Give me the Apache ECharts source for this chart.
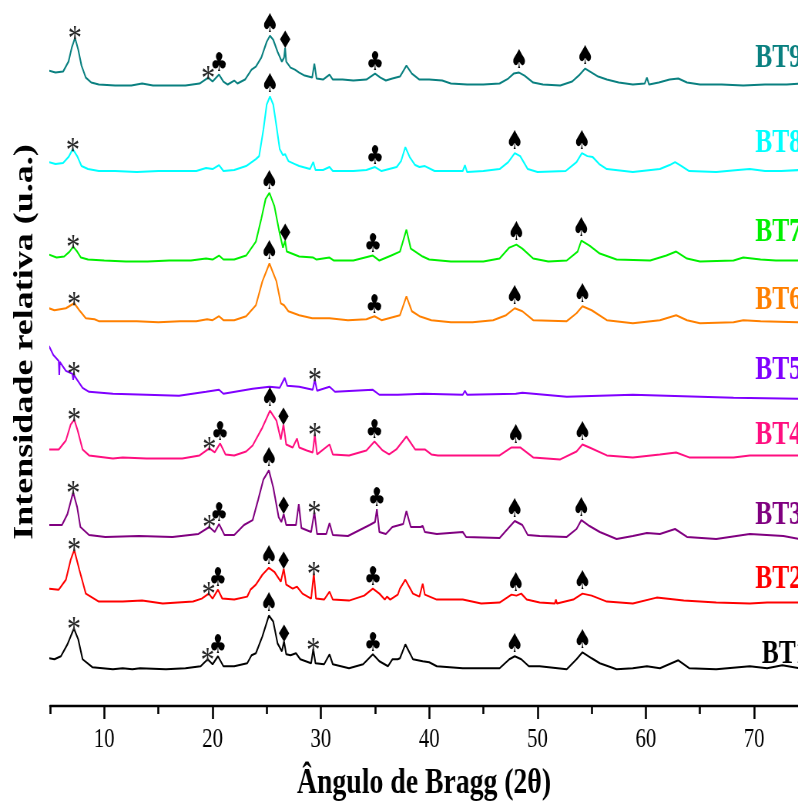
<!DOCTYPE html>
<html><head><meta charset="utf-8">
<script src="https://cdn.jsdelivr.net/npm/echarts@6/dist/echarts.min.js"></script>
<style>
html,body{margin:0;padding:0;background:#fff;overflow:hidden}
#wrap{width:798px;height:807px;overflow:hidden;position:relative;background:#fff}
#chart{width:1036px;height:807px;transform:scaleX(0.77027);transform-origin:0 0}
</style></head><body>
<div id="wrap"><div id="chart"></div></div>
<script>
// ---------------- DATA ----------------
const sampleNames = ['BT1','BT2','BT3','BT4','BT5','BT6','BT7','BT8','BT9'];
const sampleColors = ['#000000','#ff0000','#800080','#ff0f80','#8000ff','#ff8000','#00f000','#00ffff','#0a8080'];
// vertical stacking offsets (arbitrary units)
const stackOffsets = [36,102,168,248,308,385,447,537,624];
const majorTicks = [10,20,30,40,50,60,70];
const minorTicks = [5,15,25,35,45,55,65];

// patterns: [2theta, relative intensity]
const bt1 = [[4.9,12],[5.4,11],[6.0,14],[6.6,26],[7.2,42],[7.6,31],[8.0,11],[8.9,3],[10.8,1],[11.7,2],[12.6,1],[13.3,2],[15.7,1],[17.5,2],[18.9,4],[19.55,11],[20.0,6],[20.5,14],[21.0,4],[22.0,4],[23.2,7],[23.6,15],[24.0,17],[24.6,34],[25.2,55],[25.6,49],[26.0,27],[26.4,19],[26.6,29],[26.8,16],[27.2,15],[27.7,17],[28.1,11],[29.1,7],[29.3,21],[29.5,7],[30.3,6],[30.8,16],[31.1,6],[32.6,2],[33.9,6],[34.8,16],[35.4,9],[36.2,4],[36.6,11],[37.1,11],[37.3,12],[37.8,26],[38.5,11],[39.4,9],[40.0,8],[40.7,4],[43.1,2],[46.5,2],[47.4,11],[47.9,14],[48.5,11],[49.2,4],[50.2,4],[52.7,1],[53.6,11],[54.15,18],[55.0,12],[55.75,7],[57.3,1],[58.8,2],[60.1,4],[61.3,2],[63.0,10],[64.0,2],[66.5,1],[69.6,4],[71.2,2],[72.6,5],[74.2,2]];
const bt2 = [[4.9,16],[5.8,15],[6.46,25],[6.9,45],[7.23,55],[7.7,35],[8.3,11],[9.5,3],[11.7,3],[13.5,4],[15.4,1],[18.2,3],[19.0,6],[19.65,11],[20.0,6],[20.5,15],[20.9,6],[22.0,5],[23.2,8],[23.5,15],[24.0,20],[24.6,30],[25.2,37],[25.7,33],[26.3,23],[26.57,36],[26.8,20],[27.4,16],[27.8,18],[28.3,11],[29.1,6],[29.35,31],[29.55,6],[30.3,5],[30.8,13],[31.1,5],[32.6,4],[34.0,9],[34.8,16],[35.4,11],[35.9,5],[36.1,8],[36.4,5],[37.1,10],[37.3,16],[37.8,25],[38.5,11],[39.1,8],[39.4,21],[39.6,10],[40.7,5],[43.1,5],[44.8,1],[46.5,2],[47.6,10],[48.05,9],[48.5,11],[49.0,5],[50.2,2],[51.6,1],[51.7,5],[51.8,1],[53.3,5],[54.15,11],[55.0,9],[56.4,3],[58.8,1],[61.0,7],[63.5,4],[66.5,2],[69.6,1],[71.2,2],[74.2,2]];
const bt3 = [[4.9,14],[6.1,14],[6.6,25],[7.13,47],[7.5,32],[7.8,12],[8.6,4],[10.1,2],[13.2,3],[16.3,2],[18.7,5],[19.7,12],[20.2,7],[20.6,15],[21.1,4],[22.0,4],[22.9,14],[23.7,19],[24.2,39],[24.7,60],[25.2,69],[25.6,52],[26.1,22],[26.35,17],[26.57,25],[26.8,14],[27.7,14],[27.96,35],[28.2,11],[29.1,7],[29.4,27],[29.65,5],[30.5,5],[30.8,16],[31.1,4],[32.5,3],[34.5,14],[35.0,17],[35.17,30],[35.4,7],[36.0,5],[36.6,12],[37.6,15],[37.9,28],[38.3,12],[39.2,12],[39.4,13],[39.6,7],[40.7,5],[43.1,7],[43.4,2],[46.5,1],[47.4,12],[47.9,18],[48.6,14],[49.1,4],[50.2,3],[52.7,2],[53.6,10],[54.05,19],[54.8,13],[55.75,7],[57.3,0],[58.8,3],[60.1,6],[61.3,5],[62.7,10],[63.8,2],[66.5,0],[69.6,5],[72.7,3],[74.2,0]];
const bt4 = [[4.9,10],[5.8,10],[6.46,19],[6.9,35],[7.23,40],[7.55,29],[8.0,10],[8.6,4],[10.8,1],[11.7,2],[13.9,1],[17.2,1],[18.8,4],[19.7,11],[20.2,7],[20.7,16],[21.2,5],[22.0,4],[23.1,8],[23.7,14],[24.6,32],[25.3,49],[25.9,39],[26.3,20],[26.55,35],[26.8,15],[27.4,12],[27.8,21],[28.0,12],[28.7,9],[29.25,7],[29.44,25],[29.65,5],[30.8,15],[31.1,5],[32.6,4],[34.2,9],[34.95,18],[35.7,9],[36.3,5],[36.96,10],[37.9,23],[38.7,10],[39.6,10],[40.2,5],[40.8,4],[43.3,4],[46.5,4],[47.6,12],[48.4,12],[49.0,7],[49.6,2],[52.1,0],[53.6,8],[54.15,15],[54.8,12],[56.4,4],[58.8,2],[61.3,5],[62.8,7],[64.0,2],[68.1,2],[69.6,4],[74.2,4]];
const bt5 = [[4.9,54],[5.3,45],[5.8,39],[5.85,25],[5.9,38],[6.46,29],[7.07,26],[7.13,20],[7.2,25],[7.5,20],[8.0,12],[8.6,8],[10.8,6],[13.9,5],[16.9,4],[19.4,8],[20.6,10],[21.0,6],[23.7,11],[25.25,13],[26.2,12],[26.66,22],[26.9,14],[28.0,13],[29.25,10],[29.44,20],[29.65,9],[30.8,13],[31.3,8],[34.8,10],[35.4,5],[37.1,5],[39.5,6],[43.1,5],[43.3,9],[43.5,5],[48.0,6],[48.6,7],[52.7,3],[58.8,5],[61.9,4],[68.1,2],[74.2,1]];
const bt6 = [[4.9,15],[5.4,13],[6.46,15],[7.23,20],[7.7,13],[8.3,5],[9.1,4],[9.5,2],[11,2],[13,2],[15,1],[17,2],[18.5,2],[19.5,4],[20.0,3],[20.6,7],[21.0,3],[22.0,3],[23.1,7],[24.0,18],[24.6,42],[25.25,60],[25.9,42],[26.3,20],[26.6,18],[27.0,12],[28.0,8],[29.2,5],[30.8,5],[32.5,3],[34.2,4],[34.95,7],[35.6,3],[36.96,7],[37.3,8],[37.9,27],[38.4,12],[39.1,7],[40.2,3],[42,1],[44,1],[45.9,3],[47.1,8],[47.9,15],[48.6,12],[49.6,3],[52.7,2],[53.6,10],[54.15,17],[55.0,13],[56.4,3],[58.8,0],[61.3,3],[62.8,8],[63.8,3],[65,0],[68.1,1],[69.0,3],[70.6,2],[74.2,1]];
const bt7 = [[4.9,7],[5.6,4],[6.3,5],[6.8,10],[7.13,15],[7.5,10],[7.85,4],[8.5,2],[10,1],[12,0],[14,0],[16,1],[18,1],[19.4,3],[20.0,2],[20.6,6],[21.0,2],[22.0,2],[23.1,6],[24.0,20],[24.5,43],[24.9,63],[25.25,69],[25.7,56],[26.2,28],[26.5,14],[26.7,21],[26.85,10],[28.0,5],[29.3,4],[29.4,6],[29.6,2],[30.8,4],[31.2,1],[33,1],[34.8,6],[35.4,1],[36.5,6],[37.3,10],[37.9,32],[38.3,13],[39.4,5],[40,2],[42,0],[45,0],[46.5,3],[47.4,14],[48.05,17],[48.6,13],[49.6,3],[51,0],[52.7,1],[53.7,10],[54.05,21],[54.8,16],[55.75,8],[57.3,2],[60.4,1],[61.9,6],[62.8,10],[63.8,3],[65.0,0],[68.1,1],[69.0,4],[70.6,2],[72,1],[74.2,1]];
const bt8 = [[4.9,10],[5.5,8],[6.2,9],[6.7,15],[7.1,23],[7.5,16],[7.9,6],[8.5,3],[9.5,1],[11,1],[13,0],[15,1],[17,1],[18.5,1],[19.4,4],[20.0,3],[20.6,7],[21.0,1],[22.0,2],[23.1,6],[24.0,13],[24.3,16],[24.7,43],[25.0,68],[25.3,76],[25.6,68],[25.9,46],[26.2,23],[26.5,17],[26.7,18],[27.0,11],[27.6,8],[28.0,6],[29.0,3],[29.3,10],[29.5,2],[30.2,2],[30.8,5],[31.1,1],[33,1],[34.2,2],[35.0,5],[35.6,1],[36.3,3],[37.0,5],[37.4,11],[37.8,25],[38.2,15],[38.7,7],[39.1,5],[39.6,6],[40.5,1],[42,1],[43.1,1],[43.3,7],[43.5,0],[45,1],[46.5,3],[47.3,10],[47.9,19],[48.4,16],[49.1,3],[50.0,0],[52.6,1],[53.6,10],[54.1,19],[54.6,16],[55.1,15],[55.7,8],[56.4,3],[58.8,0],[61.3,3],[62.2,7],[62.7,10],[63.3,6],[64.0,1],[66.5,0],[68.5,2],[69.6,3],[71.0,1],[72.5,1],[74.2,2]];
const bt9 = [[4.9,15],[5.5,13],[6.2,14],[6.7,24],[7.0,38],[7.3,48],[7.6,36],[7.9,20],[8.3,8],[8.8,3],[9.5,1],[11,0],[12.5,0],[13.5,2],[14.5,0],[16,0],[17.5,0],[18.8,2],[19.6,8],[20.0,4],[20.6,11],[21.0,4],[21.4,1],[22.0,5],[22.3,2],[23.0,6],[23.6,16],[24.0,19],[24.5,28],[25.0,44],[25.3,50],[25.6,46],[26.0,34],[26.4,24],[26.6,28],[26.7,38],[26.8,24],[27.2,18],[27.6,16],[28.0,13],[28.5,10],[29.2,8],[29.4,22],[29.6,7],[30.2,6],[30.8,11],[31.1,6],[32,6],[33,5],[34.2,6],[35.0,12],[35.5,8],[36,5],[36.6,7],[37.3,9],[37.9,20],[38.4,12],[39.1,6],[40,6],[41.2,5],[42,2],[43.5,1],[45,1],[46.5,2],[47.3,7],[47.8,12],[48.3,13],[48.8,10],[49.6,3],[50.5,1],[52.1,0],[53.2,4],[53.9,11],[54.4,17],[55.0,13],[55.6,9],[56.4,6],[57.5,3],[58.8,1],[59.9,2],[60.1,8],[60.3,1],[61.2,3],[62.2,6],[63.0,7],[63.8,3],[65,1],[67,1],[69,0],[71,1],[73,1],[74.2,2]];
const patterns = [bt1,bt2,bt3,bt4,bt5,bt6,bt7,bt8,bt9];

// phase markers: [2theta, symbol]  (* ♣ ♠ ♦)
const peaks1 = [[7.2,'*'],[19.55,'*'],[20.5,'♣'],[25.2,'♠'],[26.6,'♦'],[29.3,'*'],[34.8,'♣'],[47.9,'♠'],[54.15,'♠']];
const peaks2 = [[7.23,'*'],[19.65,'*'],[20.5,'♣'],[25.2,'♠'],[26.57,'♦'],[29.35,'*'],[34.8,'♣'],[48.0,'♠'],[54.15,'♠']];
const peaks3 = [[7.13,'*'],[19.7,'*'],[20.6,'♣'],[25.2,'♠'],[26.57,'♦'],[29.4,'*'],[35.17,'♣'],[47.9,'♠'],[54.05,'♠']];
const peaks4 = [[7.23,'*'],[19.7,'*'],[20.7,'♣'],[25.3,'♠'],[26.55,'♦'],[29.44,'*'],[34.95,'♣'],[48.0,'♠'],[54.15,'♠']];
const peaks5 = [[7.2,'*'],[29.44,'*']];
const peaks6 = [[7.23,'*'],[25.25,'♠'],[34.95,'♣'],[47.9,'♠'],[54.15,'♠']];
const peaks7 = [[7.13,'*'],[25.25,'♠'],[26.7,'♦'],[34.8,'♣'],[48.05,'♠'],[54.05,'♠']];
const peaks8 = [[7.1,'*'],[25.3,'♠'],[35.0,'♣'],[47.9,'♠'],[54.1,'♠']];
const peaks9 = [[7.3,'*'],[19.6,'*'],[20.6,'♣'],[25.3,'♠'],[26.7,'♦'],[35.0,'♣'],[48.3,'♠'],[54.4,'♠']];
const peakSets = [peaks1,peaks2,peaks3,peaks4,peaks5,peaks6,peaks7,peaks8,peaks9];

// ---------------- LAYOUT / STYLE ----------------
const labelLift = [16,25,24,24,29,23,29,29,27];
const labelX = [70.7,70.1,70.1,70.1,70.1,70.1,70.1,70.1,70.1];
const serif = '"Liberation Serif","Times New Roman",serif';
const symStyle = {
  '♠': {fontSize: 26, fontFamily: '"DejaVu Sans",sans-serif', color: '#000', distance: -2},
  '♣': {fontSize: 26, fontFamily: '"DejaVu Sans",sans-serif', color: '#000', distance: -3},
  '♦': {fontSize: 24, fontFamily: '"DejaVu Sans",sans-serif', color: '#000', distance: -6},
  '*': {fontSize: 36, fontFamily: serif, color: '#262626', distance: -21}
};

function peakTop(data, x) {
  let best = -Infinity;
  for (const [px, py] of data) if (Math.abs(px - x) <= 0.3) best = Math.max(best, py);
  if (best === -Infinity) {
    for (let i = 0; i < data.length - 1; i++) {
      if (data[i][0] <= x && data[i+1][0] >= x) {
        const t = (x - data[i][0]) / (data[i+1][0] - data[i][0]);
        best = data[i][1] + t * (data[i+1][1] - data[i][1]);
      }
    }
  }
  return best;
}

const series = [];
patterns.forEach((pat, i) => {
  series.push({
    type: 'line', name: sampleNames[i], showSymbol: false, silent: true,
    data: pat.map(p => [p[0], p[1] + stackOffsets[i]]),
    lineStyle: {color: sampleColors[i], width: 2}, itemStyle: {color: sampleColors[i]},
    z: 2
  });
});
const markerData = [];
peakSets.forEach((set, i) => {
  set.forEach(([x, s]) => {
    const st = symStyle[s];
    markerData.push({
      value: [x, peakTop(patterns[i], x) + stackOffsets[i]],
      label: {show: true, position: 'top', formatter: s, fontSize: st.fontSize,
              fontFamily: st.fontFamily, color: st.color, distance: st.distance, opacity: 1}
    });
  });
});
series.push({type: 'scatter', symbolSize: 0, silent: true, data: markerData, z: 5,
             itemStyle: {opacity: 1}});
series.push({
  type: 'scatter', symbolSize: 0, silent: true, z: 5, itemStyle: {opacity: 1},
  data: sampleNames.map((n, i) => ({
    value: [labelX[i], stackOffsets[i] + labelLift[i]],
    label: {show: true, position: 'right', distance: 0, formatter: n, fontFamily: serif,
            fontWeight: 'bold', fontSize: 33, color: sampleColors[i], opacity: 1}
  }))
});

const chart = echarts.init(document.getElementById('chart'), null, {renderer: 'canvas'});
chart.setOption({
  animation: false,
  backgroundColor: '#fff',
  grid: {left: 65, right: 0, top: 0, bottom: 97, containLabel: false},
  xAxis: [{
    type: 'value', min: 5, max: 74.05, position: 'bottom',
    axisLine: {show: true, lineStyle: {color: '#000', width: 2.4}},
    axisTick: {show: true, customValues: majorTicks, length: 13, lineStyle: {color: '#000', width: 2.6}},
    axisLabel: {show: true, customValues: majorTicks, fontFamily: serif, fontSize: 27, color: '#000', margin: 20},
    splitLine: {show: false},
    name: 'Ângulo de Bragg (2θ)', nameLocation: 'middle', nameGap: 60,
    nameTextStyle: {fontFamily: serif, fontWeight: 'bold', fontSize: 36, color: '#000'}
  }, {
    type: 'value', min: 5, max: 74.05, position: 'bottom',
    axisLine: {show: false},
    axisTick: {show: true, customValues: minorTicks, length: 8, lineStyle: {color: '#000', width: 2.6}},
    axisLabel: {show: false}, splitLine: {show: false}
  }],
  yAxis: {type: 'value', min: 0, max: 710, show: false},
  graphic: [{
    type: 'text', x: 33, y: 342, rotation: Math.PI / 2,
    style: {text: 'Intensidade relativa (u.a.)', font: 'bold 36px ' + serif, fill: '#000',
            align: 'center', verticalAlign: 'middle'}
  }],
  series: series
});
</script>
</body></html>
